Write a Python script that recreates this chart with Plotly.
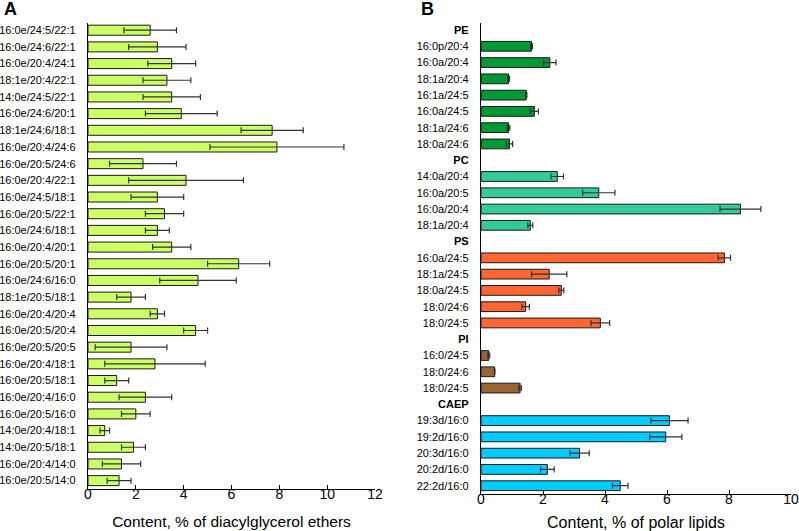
import plotly.graph_objects as go

# ---------------- Panel A data ----------------
a_labels = [
    "16:0e/24:5/22:1", "16:0e/24:6/22:1", "16:0e/20:4/24:1", "18:1e/20:4/22:1",
    "14:0e/24:5/22:1", "16:0e/24:6/20:1", "18:1e/24:6/18:1", "16:0e/20:4/24:6",
    "16:0e/20:5/24:6", "16:0e/20:4/22:1", "16:0e/24:5/18:1", "16:0e/20:5/22:1",
    "16:0e/24:6/18:1", "16:0e/20:4/20:1", "16:0e/20:5/20:1", "16:0e/24:6/16:0",
    "18:1e/20:5/18:1", "16:0e/20:4/20:4", "16:0e/20:5/20:4", "16:0e/20:5/20:5",
    "16:0e/20:4/18:1", "16:0e/20:5/18:1", "16:0e/20:4/16:0", "16:0e/20:5/16:0",
    "14:0e/20:4/18:1", "14:0e/20:5/18:1", "16:0e/20:4/14:0", "16:0e/20:5/14:0",
]
a_values = [2.6, 2.9, 3.5, 3.3, 3.5, 3.9, 7.7, 7.9, 2.3, 4.1, 2.9, 3.2, 2.9, 3.5,
            6.3, 4.6, 1.8, 2.9, 4.5, 1.8, 2.8, 1.2, 2.4, 2.0, 0.7, 1.9, 1.4, 1.3]
a_errors = [1.1, 1.2, 1.0, 1.0, 1.2, 1.5, 1.3, 2.8, 1.4, 2.4, 1.1, 0.8, 0.5, 0.8,
            1.3, 1.6, 0.6, 0.3, 0.5, 1.5, 2.1, 0.5, 1.1, 0.6, 0.2, 0.5, 0.8, 0.5]

# ---------------- Panel B data ----------------
b_groups = ["PE", "PC", "PS", "PI", "CAEP"]
pe_labels = ["16:0p/20:4", "16:0a/20:4", "18:1a/20:4", "16:1a/24:5", "16:0a/24:5", "18:1a/24:6", "18:0a/24:6"]
pe_values = [1.63, 2.22, 0.89, 1.46, 1.72, 0.89, 0.92]
pe_errors = [0.03, 0.2, 0.03, 0.02, 0.13, 0.04, 0.1]
pc_labels = ["14:0a/20:4", "16:0a/20:5", "16:0a/20:4", "18:1a/20:4"]
pc_values = [2.46, 3.8, 8.37, 1.59]
pc_errors = [0.2, 0.52, 0.66, 0.08]
ps_labels = ["16:0a/24:5", "18:1a/24:5", "18:0a/24:5", "18:0/24:6", "18:0/24:5"]
ps_values = [7.85, 2.2, 2.59, 1.44, 3.85]
ps_errors = [0.2, 0.57, 0.08, 0.12, 0.3]
pi_labels = ["16:0/24:5", "18:0/24:6", "18:0/24:5"]
pi_values = [0.25, 0.44, 1.26]
pi_errors = [0.03, 0.01, 0.04]
caep_labels = ["19:3d/16:0", "19:2d/16:0", "20:3d/16:0", "20:2d/16:0", "22:2d/16:0"]
caep_values = [6.08, 5.96, 3.18, 2.14, 4.49]
caep_errors = [0.6, 0.52, 0.31, 0.22, 0.25]

b_colors = {"PE": "#009933", "PC": "#33CC99", "PS": "#FF6633", "PI": "#996633", "CAEP": "#00CCFF"}
b_data = {
    "PE": (pe_labels, pe_values, pe_errors),
    "PC": (pc_labels, pc_values, pc_errors),
    "PS": (ps_labels, ps_values, ps_errors),
    "PI": (pi_labels, pi_values, pi_errors),
    "CAEP": (caep_labels, caep_values, caep_errors),
}

FONT = "Arial, Liberation Sans, sans-serif"
err_style = dict(type="data", color="#333333", thickness=1.2, width=3)
outline = dict(color="#1a1a1a", width=1)

fig = go.Figure()

fig.add_trace(go.Bar(
    x=a_values, y=a_labels, orientation="h",
    marker=dict(color="#CCFF66", line=outline),
    error_x=dict(array=a_errors, **err_style),
    xaxis="x", yaxis="y", showlegend=False,
))

b_cats, b_text = [], []
for g in b_groups:
    labels, vals, errs = b_data[g]
    b_cats.append(g)
    b_text.append("<b>" + g + "</b>")
    ids = [g + "|" + l for l in labels]
    b_cats += ids
    b_text += labels
    fig.add_trace(go.Bar(
        x=vals, y=ids, orientation="h",
        marker=dict(color=b_colors[g], line=outline),
        error_x=dict(array=errs, **err_style),
        xaxis="x2", yaxis="y2", showlegend=False,
    ))
# header rows (no bars)
fig.add_trace(go.Bar(x=[None] * len(b_groups), y=b_groups, orientation="h",
                     xaxis="x2", yaxis="y2", showlegend=False, hoverinfo="skip"))

W, H = 799, 531
def fx(px):
    return px / W
def fy(py):
    return 1 - py / H

xcommon = dict(showline=True, linecolor="black", linewidth=1.3, ticks="inside",
               ticklen=4, tickcolor="black", showgrid=False, zeroline=False,
               automargin=False, ticklabelstandoff=-8,
               tickfont=dict(size=14, color="black", family=FONT), dtick=2)
ycommon = dict(showline=True, linecolor="black", linewidth=1.3, ticks="",
               showgrid=False, zeroline=False, ticklabelstandoff=9, automargin=False,
               tickfont=dict(size=11, color="black", family=FONT))

fig.update_layout(
    width=W, height=H,
    margin=dict(l=0, r=0, t=0, b=0),
    paper_bgcolor="white", plot_bgcolor="white",
    barmode="overlay", bargap=0.4,
    font=dict(family=FONT, color="black"),
    xaxis=dict(domain=[fx(88), fx(375)], range=[0, 12], anchor="y",
               title=dict(text="Content, % of diacylglycerol ethers",
                          font=dict(size=15.5, family=FONT), standoff=14),
               **xcommon),
    yaxis=dict(domain=[fy(489.3), fy(22.7)], anchor="x", type="category",
               categoryorder="array", categoryarray=a_labels,
               range=[27.52, -0.45], **ycommon),
    xaxis2=dict(domain=[fx(481), fx(791)], range=[0, 10], anchor="y2",
                title=dict(text="Content, % of polar lipids",
                           font=dict(size=16, family=FONT), standoff=10),
                **xcommon),
    yaxis2=dict(domain=[fy(494), fy(22.7)], anchor="x2", type="category",
                categoryorder="array", categoryarray=b_cats,
                tickmode="array", tickvals=b_cats, ticktext=b_text,
                range=[28.51, -0.45], **ycommon),
    annotations=[
        dict(text="<b>A</b>", x=fx(10), y=fy(9), xref="paper", yref="paper",
             showarrow=False, font=dict(size=18, family=FONT), xanchor="center", yanchor="middle"),
        dict(text="<b>B</b>", x=fx(427), y=fy(9), xref="paper", yref="paper",
             showarrow=False, font=dict(size=18, family=FONT), xanchor="center", yanchor="middle"),
    ],
)

fig.write_html(
    "out.html",
    config={"displayModeBar": False},
    post_script="document.body.style.margin='0';document.body.style.padding='0';"
                "document.body.style.overflow='hidden';",
)
